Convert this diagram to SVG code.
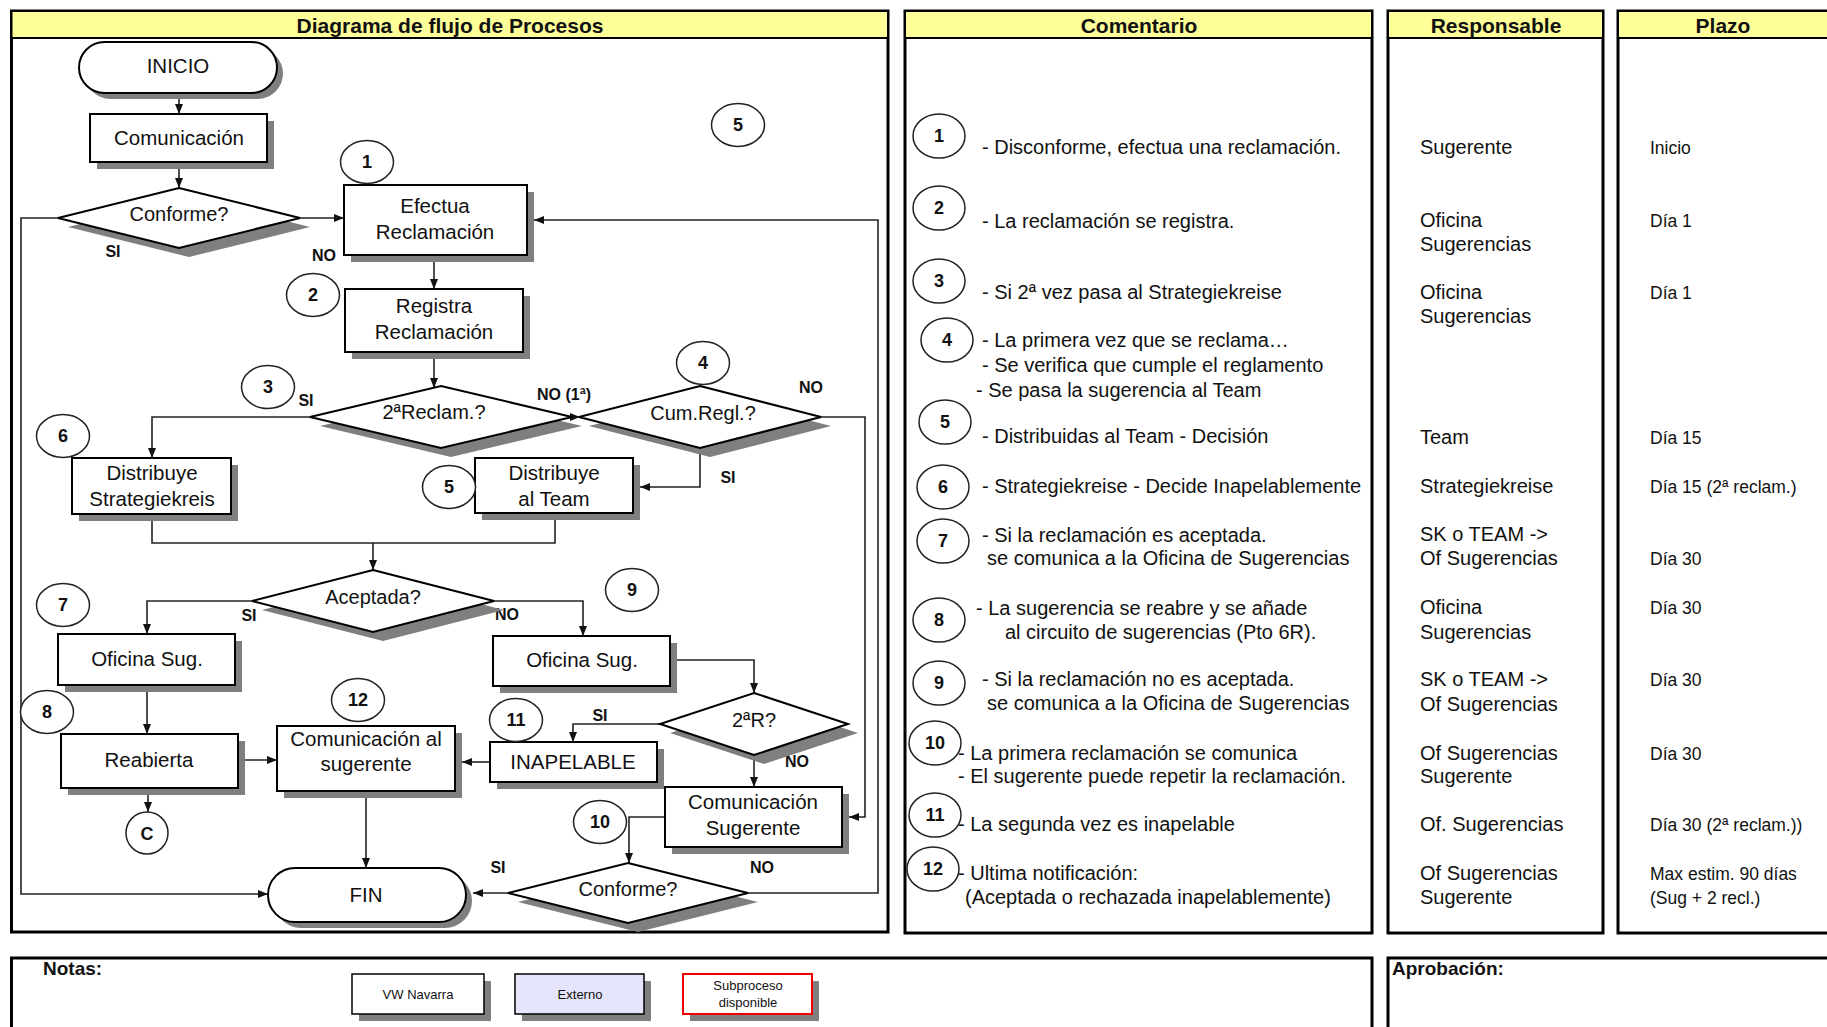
<svg xmlns="http://www.w3.org/2000/svg" width="1827" height="1027" viewBox="0 0 1827 1027">
<defs>
<style>
.panel{fill:#fff;stroke:#000;stroke-width:3}
.head{fill:#ffff99;stroke:#000;stroke-width:2}
.hd{font:bold 21px "Liberation Sans",Arial,sans-serif;fill:#111;text-anchor:middle}
.box{fill:#fff;stroke:#000;stroke-width:2}
.sh{fill:#7f7f7f}
.tx{font:20.5px "Liberation Sans",Arial,sans-serif;fill:#111;text-anchor:middle}
.dt{font:20px "Liberation Sans",Arial,sans-serif;fill:#111;text-anchor:middle}
.lbl{font:bold 16px "Liberation Sans",Arial,sans-serif;fill:#111;text-anchor:middle}
.conn{fill:none;stroke:#222;stroke-width:1.6}
.arr{marker-end:url(#ah)}
.num ellipse{fill:#fff;stroke:#222;stroke-width:1.5}
.nt{font:bold 18px "Liberation Sans",Arial,sans-serif;fill:#111;text-anchor:middle}
.cm{font:20px "Liberation Sans",Arial,sans-serif;fill:#111}
.pz{font:17.5px "Liberation Sans",Arial,sans-serif;fill:#111}
.nb{font:bold 19px "Liberation Sans",Arial,sans-serif;fill:#111}
.lg{font:13px "Liberation Sans",Arial,sans-serif;fill:#111;text-anchor:middle}
</style>
<marker id="ah" markerUnits="userSpaceOnUse" markerWidth="10" markerHeight="8" refX="10" refY="4" orient="auto">
<path d="M0,0 L10,4 L0,8 z" fill="#111"/>
</marker>
</defs>
<rect width="1827" height="1027" fill="#fff"/>

<!-- column frames -->
<g id="frames">
<rect class="panel" x="11.5" y="11" width="876.5" height="921"/>
<rect class="head" x="11.5" y="11" width="876.5" height="27"/>
<text class="hd" x="450" y="33">Diagrama de flujo de Procesos</text>
<rect class="panel" x="905" y="11" width="467" height="922"/>
<rect class="head" x="905" y="11" width="467" height="27"/>
<text class="hd" x="1139" y="33">Comentario</text>
<rect class="panel" x="1388" y="11" width="215" height="922"/>
<rect class="head" x="1388" y="11" width="215" height="27"/>
<text class="hd" x="1496" y="33">Responsable</text>
<rect class="panel" x="1618" y="11" width="230" height="922"/>
<rect class="head" x="1618" y="11" width="230" height="27"/>
<text class="hd" x="1723" y="33">Plazo</text>
<rect class="panel" x="11.5" y="958" width="1360.5" height="90"/>
<text class="nb" x="43" y="975">Notas:</text>
<rect class="panel" x="1388" y="958" width="460" height="90"/>
<text class="nb" x="1392" y="975">Aprobación:</text>
</g>

<!-- connectors -->
<g id="connectors">
<path class="conn arr" d="M179,93 V114"/>
<path class="conn arr" d="M179,162 V188"/>
<path class="conn arr" d="M300,218 H344"/>
<path class="conn arr" d="M58,218 H21 V894 H268"/>
<path class="conn arr" d="M434,255 V289"/>
<path class="conn arr" d="M434,352 V388"/>
<path class="conn arr" d="M310,417 H152 V458"/>
<path class="conn arr" d="M566,417 H580"/>
<path class="conn arr" d="M700,448 V487 H640"/>
<path class="conn arr" d="M821,417 H865 V817 H849"/>
<path class="conn" d="M152,514 V543 H555 V513"/>
<path class="conn arr" d="M373,543 V570"/>
<path class="conn arr" d="M252,601 H147 V634"/>
<path class="conn arr" d="M494,601 H583 V636"/>
<path class="conn arr" d="M147,685 V734"/>
<path class="conn arr" d="M148,788 V812"/>
<path class="conn arr" d="M238,760 H277"/>
<path class="conn arr" d="M366,791 V868"/>
<path class="conn arr" d="M670,660 H754 V693"/>
<path class="conn arr" d="M660,724 H573 V742"/>
<path class="conn arr" d="M490,762 H462"/>
<path class="conn arr" d="M754,755 V787"/>
<path class="conn arr" d="M665,817 H629 V863"/>
<path class="conn arr" d="M508,893 H473"/>
<path class="conn arr" d="M748,893 H878 V220 H534"/>
<text class="lbl" x="113" y="257">SI</text>
<text class="lbl" x="324" y="261">NO</text>
<text class="lbl" x="306" y="406">SI</text>
<text class="lbl" x="564" y="400">NO (1ª)</text>
<text class="lbl" x="811" y="393">NO</text>
<text class="lbl" x="728" y="483">SI</text>
<text class="lbl" x="249" y="621">SI</text>
<text class="lbl" x="507" y="620">NO</text>
<text class="lbl" x="600" y="721">SI</text>
<text class="lbl" x="797" y="767">NO</text>
<text class="lbl" x="498" y="873">SI</text>
<text class="lbl" x="762" y="873">NO</text>
</g>

<!-- flow nodes -->
<g id="inicio">
<rect class="sh" x="85" y="48" width="198" height="51" rx="25.5"/>
<rect class="box" x="79" y="42" width="198" height="51" rx="25.5"/>
<text class="tx" x="178" y="73">INICIO</text>
</g>
<g id="comunicacion">
<rect class="sh" x="97" y="121" width="177" height="48"/>
<rect class="box" x="90" y="114" width="177" height="48"/>
<text class="tx" x="179" y="145">Comunicación</text>
</g>
<g id="conforme1">
<polygon class="sh" points="189,197 310,227 189,257 68,227"/>
<polygon class="box" points="179,188 300,218 179,248 58,218"/>
<text class="dt" x="179" y="221">Conforme?</text>
</g>
<g id="efectua">
<rect class="sh" x="351" y="192" width="183" height="70"/>
<rect class="box" x="344" y="185" width="183" height="70"/>
<text class="tx" x="435" y="213">Efectua</text>
<text class="tx" x="435" y="239">Reclamación</text>
</g>
<g id="registra">
<rect class="sh" x="352" y="296" width="178" height="63"/>
<rect class="box" x="345" y="289" width="178" height="63"/>
<text class="tx" x="434" y="313">Registra</text>
<text class="tx" x="434" y="339">Reclamación</text>
</g>
<g id="reclam2">
<polygon class="sh" points="451,395 582,426 451,457 320,426"/>
<polygon class="box" points="441,386 572,417 441,448 310,417"/>
<text class="dt" x="434" y="419">2ªReclam.?</text>
</g>
<g id="cumregl">
<polygon class="sh" points="710,395 831,426 710,457 589,426"/>
<polygon class="box" points="700,386 821,417 700,448 579,417"/>
<text class="dt" x="703" y="420">Cum.Regl.?</text>
</g>
<g id="distStrat">
<rect class="sh" x="79" y="465" width="159" height="56"/>
<rect class="box" x="72" y="458" width="159" height="56"/>
<text class="tx" x="152" y="480">Distribuye</text>
<text class="tx" x="152" y="506">Strategiekreis</text>
</g>
<g id="distTeam">
<rect class="sh" x="482" y="465" width="158" height="55"/>
<rect class="box" x="475" y="458" width="158" height="55"/>
<text class="tx" x="554" y="480">Distribuye</text>
<text class="tx" x="554" y="506">al Team</text>
</g>
<g id="aceptada">
<polygon class="sh" points="383,579 504,610 383,641 262,610"/>
<polygon class="box" points="373,570 494,601 373,632 252,601"/>
<text class="dt" x="373" y="604">Aceptada?</text>
</g>
<g id="ofSugSi">
<rect class="sh" x="65" y="641" width="177" height="51"/>
<rect class="box" x="58" y="634" width="177" height="51"/>
<text class="tx" x="147" y="666">Oficina Sug.</text>
</g>
<g id="ofSugNo">
<rect class="sh" x="500" y="643" width="177" height="50"/>
<rect class="box" x="493" y="636" width="177" height="50"/>
<text class="tx" x="582" y="667">Oficina Sug.</text>
</g>
<g id="reabierta">
<rect class="sh" x="68" y="741" width="177" height="54"/>
<rect class="box" x="61" y="734" width="177" height="54"/>
<text class="tx" x="149" y="767">Reabierta</text>
</g>
<g id="comAlSug">
<rect class="sh" x="284" y="733" width="178" height="65"/>
<rect class="box" x="277" y="726" width="178" height="65"/>
<text class="tx" x="366" y="746">Comunicación al</text>
<text class="tx" x="366" y="771">sugerente</text>
</g>
<g id="r2">
<polygon class="sh" points="764,702 858,733 764,764 670,733"/>
<polygon class="box" points="754,693 848,724 754,755 660,724"/>
<text class="dt" x="754" y="727">2ªR?</text>
</g>
<g id="inapelable">
<rect class="sh" x="497" y="749" width="167" height="40"/>
<rect class="box" x="490" y="742" width="167" height="40"/>
<text class="tx" x="573" y="769">INAPELABLE</text>
</g>
<g id="comSug">
<rect class="sh" x="672" y="794" width="177" height="60"/>
<rect class="box" x="665" y="787" width="177" height="60"/>
<text class="tx" x="753" y="809">Comunicación</text>
<text class="tx" x="753" y="835">Sugerente</text>
</g>
<g id="conforme2">
<polygon class="sh" points="638,872 758,902 638,932 518,902"/>
<polygon class="box" points="628,863 748,893 628,923 508,893"/>
<text class="dt" x="628" y="896">Conforme?</text>
</g>
<g id="fin">
<rect class="sh" x="274" y="874" width="198" height="54" rx="27"/>
<rect class="box" x="268" y="868" width="198" height="54" rx="27"/>
<text class="tx" x="366" y="902">FIN</text>
</g>
<g id="conectorC" class="num">
<ellipse cx="147" cy="833" rx="21" ry="21"/>
<text class="nt" x="147" y="840">C</text>
</g>

<!-- step markers on the flow -->
<g id="steps" class="num">
<ellipse cx="367" cy="162" rx="26.5" ry="21.5"/><text class="nt" x="367" y="168">1</text>
<ellipse cx="313" cy="295" rx="26.5" ry="21.5"/><text class="nt" x="313" y="301">2</text>
<ellipse cx="268" cy="387" rx="26.5" ry="21.5"/><text class="nt" x="268" y="393">3</text>
<ellipse cx="703" cy="363" rx="26.5" ry="21.5"/><text class="nt" x="703" y="369">4</text>
<ellipse cx="738" cy="125" rx="26.5" ry="21.5"/><text class="nt" x="738" y="131">5</text>
<ellipse cx="449" cy="487" rx="26.5" ry="21.5"/><text class="nt" x="449" y="493">5</text>
<ellipse cx="63" cy="436" rx="26.5" ry="21.5"/><text class="nt" x="63" y="442">6</text>
<ellipse cx="63" cy="605" rx="26.5" ry="21.5"/><text class="nt" x="63" y="611">7</text>
<ellipse cx="47" cy="712" rx="26.5" ry="21.5"/><text class="nt" x="47" y="718">8</text>
<ellipse cx="632" cy="590" rx="26.5" ry="21.5"/><text class="nt" x="632" y="596">9</text>
<ellipse cx="600" cy="822" rx="26.5" ry="21.5"/><text class="nt" x="600" y="828">10</text>
<ellipse cx="516" cy="720" rx="26.5" ry="21.5"/><text class="nt" x="516" y="726">11</text>
<ellipse cx="358" cy="700" rx="26.5" ry="21.5"/><text class="nt" x="358" y="706">12</text>
</g>

<!-- comment column -->
<g id="comentarios">
<g class="num">
<ellipse cx="939" cy="136" rx="26" ry="22"/><text class="nt" x="939" y="142">1</text>
<ellipse cx="939" cy="208" rx="26" ry="22"/><text class="nt" x="939" y="214">2</text>
<ellipse cx="939" cy="281" rx="26" ry="22"/><text class="nt" x="939" y="287">3</text>
<ellipse cx="947" cy="340" rx="26" ry="22"/><text class="nt" x="947" y="346">4</text>
<ellipse cx="945" cy="422" rx="26" ry="22"/><text class="nt" x="945" y="428">5</text>
<ellipse cx="943" cy="487" rx="26" ry="22"/><text class="nt" x="943" y="493">6</text>
<ellipse cx="943" cy="541" rx="26" ry="22"/><text class="nt" x="943" y="547">7</text>
<ellipse cx="939" cy="620" rx="26" ry="22"/><text class="nt" x="939" y="626">8</text>
<ellipse cx="939" cy="683" rx="26" ry="22"/><text class="nt" x="939" y="689">9</text>
<ellipse cx="935" cy="743" rx="26" ry="22"/><text class="nt" x="935" y="749">10</text>
<ellipse cx="935" cy="815" rx="26" ry="22"/><text class="nt" x="935" y="821">11</text>
<ellipse cx="933" cy="869" rx="26" ry="22"/><text class="nt" x="933" y="875">12</text>
</g>
<text class="cm" x="982" y="154">- Disconforme, efectua una reclamación.</text>
<text class="cm" x="982" y="228">- La reclamación se registra.</text>
<text class="cm" x="982" y="299">- Si 2ª vez pasa al Strategiekreise</text>
<text class="cm" x="982" y="347">- La primera vez que se reclama…</text>
<text class="cm" x="982" y="372">- Se verifica que cumple el reglamento</text>
<text class="cm" x="976" y="397">- Se pasa la sugerencia al Team</text>
<text class="cm" x="982" y="443">- Distribuidas al Team - Decisión</text>
<text class="cm" x="982" y="493">- Strategiekreise - Decide Inapelablemente</text>
<text class="cm" x="982" y="542">- Si la reclamación es aceptada.</text>
<text class="cm" x="987" y="565">se comunica a la Oficina de Sugerencias</text>
<text class="cm" x="976" y="615">- La sugerencia se reabre y se añade</text>
<text class="cm" x="1005" y="639">al circuito de sugerencias (Pto 6R).</text>
<text class="cm" x="982" y="686">- Si la reclamación no es aceptada.</text>
<text class="cm" x="987" y="710">se comunica a la Oficina de Sugerencias</text>
<text class="cm" x="958" y="760">- La primera reclamación se comunica</text>
<text class="cm" x="958" y="783">- El sugerente puede repetir la reclamación.</text>
<text class="cm" x="958" y="831">- La segunda vez es inapelable</text>
<text class="cm" x="958" y="880">- Ultima notificación:</text>
<text class="cm" x="965" y="904">(Aceptada o rechazada inapelablemente)</text>
</g>

<!-- responsible column -->
<g id="responsables" class="cm">
<text x="1420" y="154">Sugerente</text>
<text x="1420" y="227">Oficina</text>
<text x="1420" y="251">Sugerencias</text>
<text x="1420" y="299">Oficina</text>
<text x="1420" y="323">Sugerencias</text>
<text x="1420" y="444">Team</text>
<text x="1420" y="493">Strategiekreise</text>
<text x="1420" y="541">SK o TEAM -&gt;</text>
<text x="1420" y="565">Of Sugerencias</text>
<text x="1420" y="614">Oficina</text>
<text x="1420" y="639">Sugerencias</text>
<text x="1420" y="686">SK o TEAM -&gt;</text>
<text x="1420" y="711">Of Sugerencias</text>
<text x="1420" y="760">Of Sugerencias</text>
<text x="1420" y="783">Sugerente</text>
<text x="1420" y="831">Of. Sugerencias</text>
<text x="1420" y="880">Of Sugerencias</text>
<text x="1420" y="904">Sugerente</text>
</g>

<!-- deadline column -->
<g id="plazos" class="pz">
<text x="1650" y="154">Inicio</text>
<text x="1650" y="227">Día 1</text>
<text x="1650" y="299">Día 1</text>
<text x="1650" y="444">Día 15</text>
<text x="1650" y="493">Día 15 (2ª reclam.)</text>
<text x="1650" y="565">Día 30</text>
<text x="1650" y="614">Día 30</text>
<text x="1650" y="686">Día 30</text>
<text x="1650" y="760">Día 30</text>
<text x="1650" y="831">Día 30 (2ª reclam.))</text>
<text x="1650" y="880">Max estim. 90 días</text>
<text x="1650" y="904">(Sug + 2 recl.)</text>
</g>

<!-- legend -->
<g id="leyenda">
<g id="legVW">
<rect class="sh" x="359" y="981" width="132" height="40"/>
<rect x="352" y="974" width="132" height="40" fill="#fff" stroke="#000" stroke-width="1.5"/>
<text class="lg" x="418" y="999">VW Navarra</text>
</g>
<g id="legExt">
<rect class="sh" x="522" y="981" width="129" height="40"/>
<rect x="515" y="974" width="129" height="40" fill="#e4e4fa" stroke="#000" stroke-width="1.5"/>
<text class="lg" x="580" y="999">Externo</text>
</g>
<g id="legSub">
<rect class="sh" x="690" y="981" width="129" height="40"/>
<rect x="683" y="974" width="129" height="40" fill="#fff" stroke="#e00" stroke-width="2"/>
<text class="lg" x="748" y="990">Subproceso</text>
<text class="lg" x="748" y="1007">disponible</text>
</g>
</g>
</svg>
